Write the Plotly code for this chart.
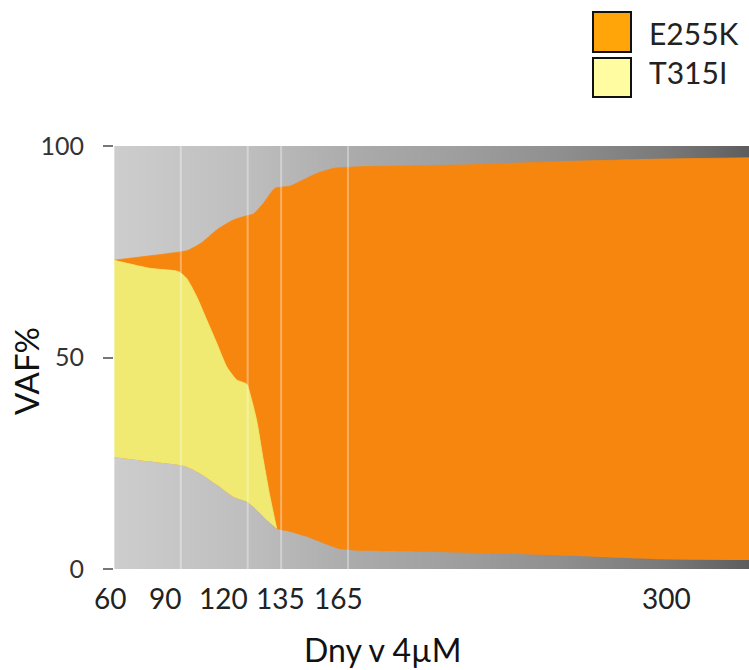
import plotly.graph_objects as go

# ---- data: clone VAF (%) boundaries over time (days) ----
sample_days = [60, 90, 120, 135, 165]

# outer edge of the E255K clone
e255k_top_days = [60, 89, 93, 99, 106, 113.5, 119.5, 122.5, 127, 132.3, 139, 143.5,
                  151, 158.4, 163, 170.4, 215.3, 260.2, 305, 345]
e255k_top_vaf = [73.0, 74.9, 75.3, 77.0, 80.1, 82.5, 83.5, 83.9, 86.4, 90.0, 90.5, 91.6,
                 93.5, 94.7, 94.9, 95.1, 95.5, 96.3, 96.9, 97.2]

# lower edge shared by both clones
bottom_days = [60, 76, 89, 92.6, 98.6, 106.1, 113.5, 119.6, 122.5, 128.5, 133, 139,
               146.5, 153.9, 161.4, 165.2, 170.4, 196, 230, 275, 305, 345]
bottom_vaf = [26.4, 25.4, 24.6, 24.2, 22.6, 19.9, 17.1, 15.9, 14.7, 11.6, 9.5, 8.8,
              7.6, 6.1, 4.7, 4.5, 4.3, 4.1, 3.7, 2.9, 2.3, 2.1]

# upper edge of the T315I clone
t315i_top_days = [60, 76, 89, 92.6, 97.1, 101.6, 106.1, 110.6, 115.1, 119.6, 121, 124,
                  127, 130, 133]
t315i_top_vaf = [73.0, 71.1, 70.3, 68.7, 64.4, 58.9, 53.4, 47.8, 44.7, 43.7, 41.5, 35.2,
                 25.8, 17.1, 9.6]

clone_names = ["E255K", "T315I"]
fill_colors = ["#F7860F", "#F0EA72"]
legend_colors = ["#FFA50A", "#FFFCA2"]

x_tick_days = [60, 90, 120, 135, 165, 300]
x_tick_text = ["60", "90", "120", "135", "165", "300"]
x_tick_nudge = [-4, -16, -24, -1, -9, 18]

# background shading stops (day, grey level)
bg_days = [50, 60, 120, 170, 215, 260, 305, 330, 345, 355]
bg_grey = [207, 205, 190, 170, 158, 143, 122, 105, 92, 88]

# ---- layout geometry (pixels) ----
W, H = 749, 670
L, R, T, B = 114, 0, 146, 101
PW, PH = W - L - R, H - T - B


def px(xp):
    return (xp - L) / PW


def py(yp):
    return (H - B - yp) / PH


fig = go.Figure()

# grey gradient behind the clones
fig.add_trace(go.Heatmap(
    x=bg_days, y=[-5, 105], z=[bg_grey, bg_grey],
    zmin=88, zmax=207, zsmooth="best", showscale=False, hoverinfo="skip",
    colorscale=[[0, "rgb(88,88,88)"], [1, "rgb(207,207,207)"]],
))

spline = dict(shape="spline", smoothing=0.6)

# E255K band
fig.add_trace(go.Scatter(x=bottom_days, y=bottom_vaf, mode="lines",
                         line=dict(width=0, **spline), showlegend=False, hoverinfo="skip"))
fig.add_trace(go.Scatter(x=e255k_top_days, y=e255k_top_vaf, mode="lines", fill="tonexty",
                         fillcolor=fill_colors[0], line=dict(width=0.8, color=fill_colors[0], **spline),
                         name=clone_names[0], showlegend=False))

# T315I band
n_t = sum(d <= t315i_top_days[-1] for d in bottom_days)
fig.add_trace(go.Scatter(x=bottom_days[:n_t], y=bottom_vaf[:n_t], mode="lines",
                         line=dict(width=0, **spline), showlegend=False, hoverinfo="skip"))
fig.add_trace(go.Scatter(x=t315i_top_days, y=t315i_top_vaf, mode="lines", fill="tonexty",
                         fillcolor=fill_colors[1], line=dict(width=0.8, color=fill_colors[1], **spline),
                         name=clone_names[1], showlegend=False))

shapes = []
# sample time markers
for d in sample_days:
    shapes.append(dict(type="line", xref="x", yref="y", x0=d, x1=d, y0=0, y1=100,
                       line=dict(color="rgba(255,255,255,0.35)", width=2), layer="above"))

annotations = []
# legend boxes
box_rows = [(12, 52, 33), (58, 97, 72)]
for (y0, y1, yt), name, col in zip(box_rows, clone_names, legend_colors):
    shapes.append(dict(type="rect", xref="paper", yref="paper",
                       x0=px(593), x1=px(631), y0=py(y1), y1=py(y0),
                       fillcolor=col, line=dict(color="#111111", width=2)))
    annotations.append(dict(xref="paper", yref="paper", x=px(647), y=py(yt), text=name,
                            showarrow=False, xanchor="left", yanchor="middle",
                            font=dict(family="Lato", size=30, color="#222222")))

# x tick labels
for d, t, n in zip(x_tick_days, x_tick_text, x_tick_nudge):
    annotations.append(dict(xref="x", yref="paper", x=d, y=0, text=t, showarrow=False,
                            xanchor="center", yanchor="middle", xshift=n, yshift=-29,
                            font=dict(family="Lato", size=28, color="#222222")))

# axis titles
annotations.append(dict(xref="paper", yref="paper", x=px(383), y=py(649), text="Dny v 4µM",
                        showarrow=False, xanchor="center", yanchor="middle",
                        font=dict(family="Lato", size=32, color="#111111")))
annotations.append(dict(xref="paper", yref="paper", x=px(26), y=py(371), text="VAF%",
                        showarrow=False, xanchor="center", yanchor="middle", textangle=-90,
                        font=dict(family="Lato", size=33, color="#111111")))

fig.update_layout(
    width=W, height=H,
    margin=dict(l=L, r=R, t=T, b=B, pad=0),
    paper_bgcolor="white", plot_bgcolor="white",
    showlegend=False,
    shapes=shapes, annotations=annotations,
    xaxis=dict(range=[60, 345], showgrid=False, zeroline=False, showticklabels=False,
               ticks="", showline=False),
    yaxis=dict(range=[0, 100], tickvals=[0, 50, 100], ticktext=["0", "50", "100"],
               ticks="outside", ticklen=10, tickwidth=1.5, tickcolor="#777777",
               ticklabelstandoff=14, showgrid=False, zeroline=False, showline=False,
               tickfont=dict(family="Lato", size=25, color="#333333")),
)

fig.write_html("out.html")
